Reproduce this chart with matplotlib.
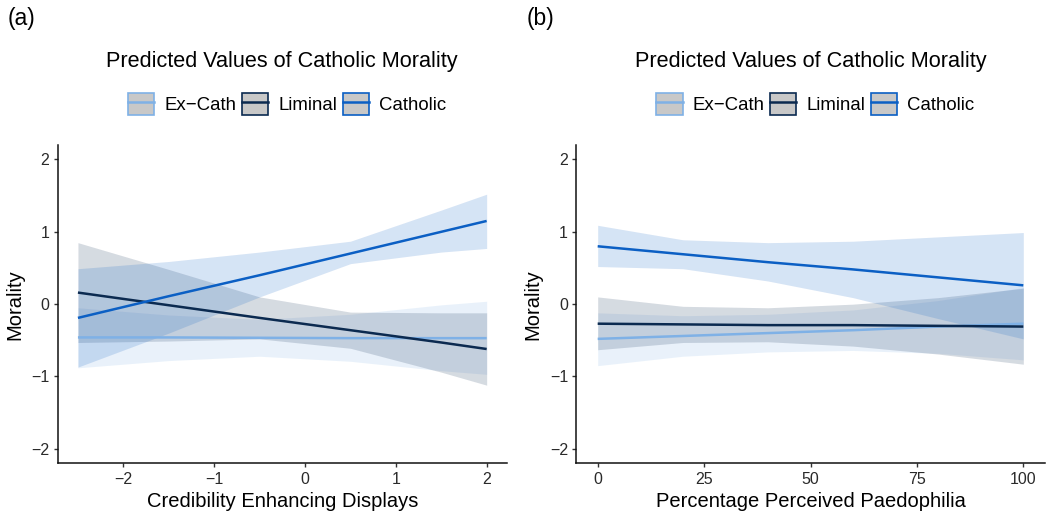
import matplotlib.pyplot as plt
import numpy as np
from matplotlib.patches import Patch
from matplotlib.lines import Line2D

plt.rcParams['font.family'] = ['Liberation Sans', 'DejaVu Sans']

groups = ["Ex\u2212Cath", "Liminal", "Catholic"]
colors = ["#7fb1e6", "#0b2a50", "#0b5fc4"]

## panel (a): Credibility Enhancing Displays
ced = [-2.5, -1.5, -0.5, 0.5, 1.5, 2.0]
a_excath = [-0.46, -0.46, -0.465, -0.47, -0.47, -0.47]
a_excath_lo = [-0.88, -0.78, -0.72, -0.79, -0.92, -0.97]
a_excath_hi = [-0.05, -0.15, -0.21, -0.14, -0.01, 0.04]
a_liminal = [0.16, -0.015, -0.19, -0.36, -0.53, -0.62]
a_liminal_lo = [-0.53, -0.51, -0.48, -0.61, -0.94, -1.12]
a_liminal_hi = [0.85, 0.48, 0.10, -0.11, -0.12, -0.12]
a_catholic = [-0.19, 0.11, 0.40, 0.70, 1.00, 1.15]
a_catholic_lo = [-0.87, -0.40, 0.10, 0.56, 0.72, 0.77]
a_catholic_hi = [0.49, 0.59, 0.72, 0.87, 1.30, 1.52]

## panel (b): Percentage Perceived Paedophilia
ppp = [0, 20, 40, 60, 80, 100]
b_excath = [-0.48, -0.44, -0.40, -0.36, -0.31, -0.27]
b_excath_lo = [-0.85, -0.72, -0.66, -0.64, -0.68, -0.77]
b_excath_hi = [-0.12, -0.16, -0.14, -0.08, 0.05, 0.23]
b_liminal = [-0.27, -0.28, -0.29, -0.29, -0.30, -0.31]
b_liminal_lo = [-0.63, -0.53, -0.52, -0.58, -0.69, -0.83]
b_liminal_hi = [0.10, -0.03, -0.05, 0.00, 0.09, 0.22]
b_catholic = [0.80, 0.69, 0.58, 0.48, 0.37, 0.26]
b_catholic_lo = [0.52, 0.49, 0.32, 0.09, -0.20, -0.48]
b_catholic_hi = [1.09, 0.89, 0.85, 0.87, 0.93, 0.99]

W, H = 1050, 513
fig = plt.figure(figsize=(W / 100, H / 100), dpi=100)

panels = [
    ("(a)", ced, [a_excath, a_liminal, a_catholic],
     [a_excath_lo, a_liminal_lo, a_catholic_lo],
     [a_excath_hi, a_liminal_hi, a_catholic_hi],
     "Credibility Enhancing Displays", (-2.725, 2.225), [-2, -1, 0, 1, 2],
     57.5, 507.1),
    ("(b)", ppp, [b_excath, b_liminal, b_catholic],
     [b_excath_lo, b_liminal_lo, b_catholic_lo],
     [b_excath_hi, b_liminal_hi, b_catholic_hi],
     "Percentage Perceived Paedophilia", (-5, 105), [0, 25, 50, 75, 100],
     576.4, 1044.6),
]

top_px, bot_px = 145.0, 463.3

for tag, x, preds, los, his, xlabel, xlim, xticks, x0, x1 in panels:
    ax = fig.add_axes([x0 / W, 1 - bot_px / H, (x1 - x0) / W, (bot_px - top_px) / H])
    for lo, hi, c in zip(los, his, colors):
        ax.fill_between(x, lo, hi, color=c, alpha=0.17, lw=0)
    for p, c in zip(preds, colors):
        ax.plot(x, p, color=c, lw=1.8, solid_capstyle='butt')
    ax.set_xlim(*xlim)
    ax.set_ylim(-2.2, 2.2)
    ax.set_xticks(xticks)
    ax.set_yticks([-2, -1, 0, 1, 2])
    ax.set_yticklabels(["\u22122", "\u22121", "0", "1", "2"])
    ax.set_xticklabels([str(t).replace("-", "\u2212") for t in xticks])
    for s in ["top", "right"]:
        ax.spines[s].set_visible(False)
    for s in ["left", "bottom"]:
        ax.spines[s].set_linewidth(1.1)
        ax.spines[s].set_color("#111111")
    ax.tick_params(length=3, width=1, color="#333333", labelcolor="#2a2a2a",
                   labelsize=11.5, pad=3)
    ax.set_xlabel(xlabel, fontsize=14.5, labelpad=4)
    ax.set_ylabel("Morality", fontsize=14.5, labelpad=5)

    cx = (x0 + x1) / 2
    fig.text(cx / W, 1 - 61 / H, "Predicted Values of Catholic Morality",
             ha='center', va='center', fontsize=15.6)
    fig.text((x0 - 50) / W, 1 - 18 / H, tag, ha='left', va='center', fontsize=16.5)

    handles = [(Patch(facecolor="#c8c8c8", edgecolor=c, lw=1.2),
                Line2D([], [], color=c, lw=1.8)) for c in colors]
    fig.legend(handles, groups, loc='center', bbox_to_anchor=((cx + 5) / W, 1 - 104 / H),
               ncol=3, frameon=False, fontsize=13.4, handlelength=1.4,
               handleheight=1.4, handletextpad=0.55, columnspacing=0.3)

plt.savefig("out.png", dpi=100)
